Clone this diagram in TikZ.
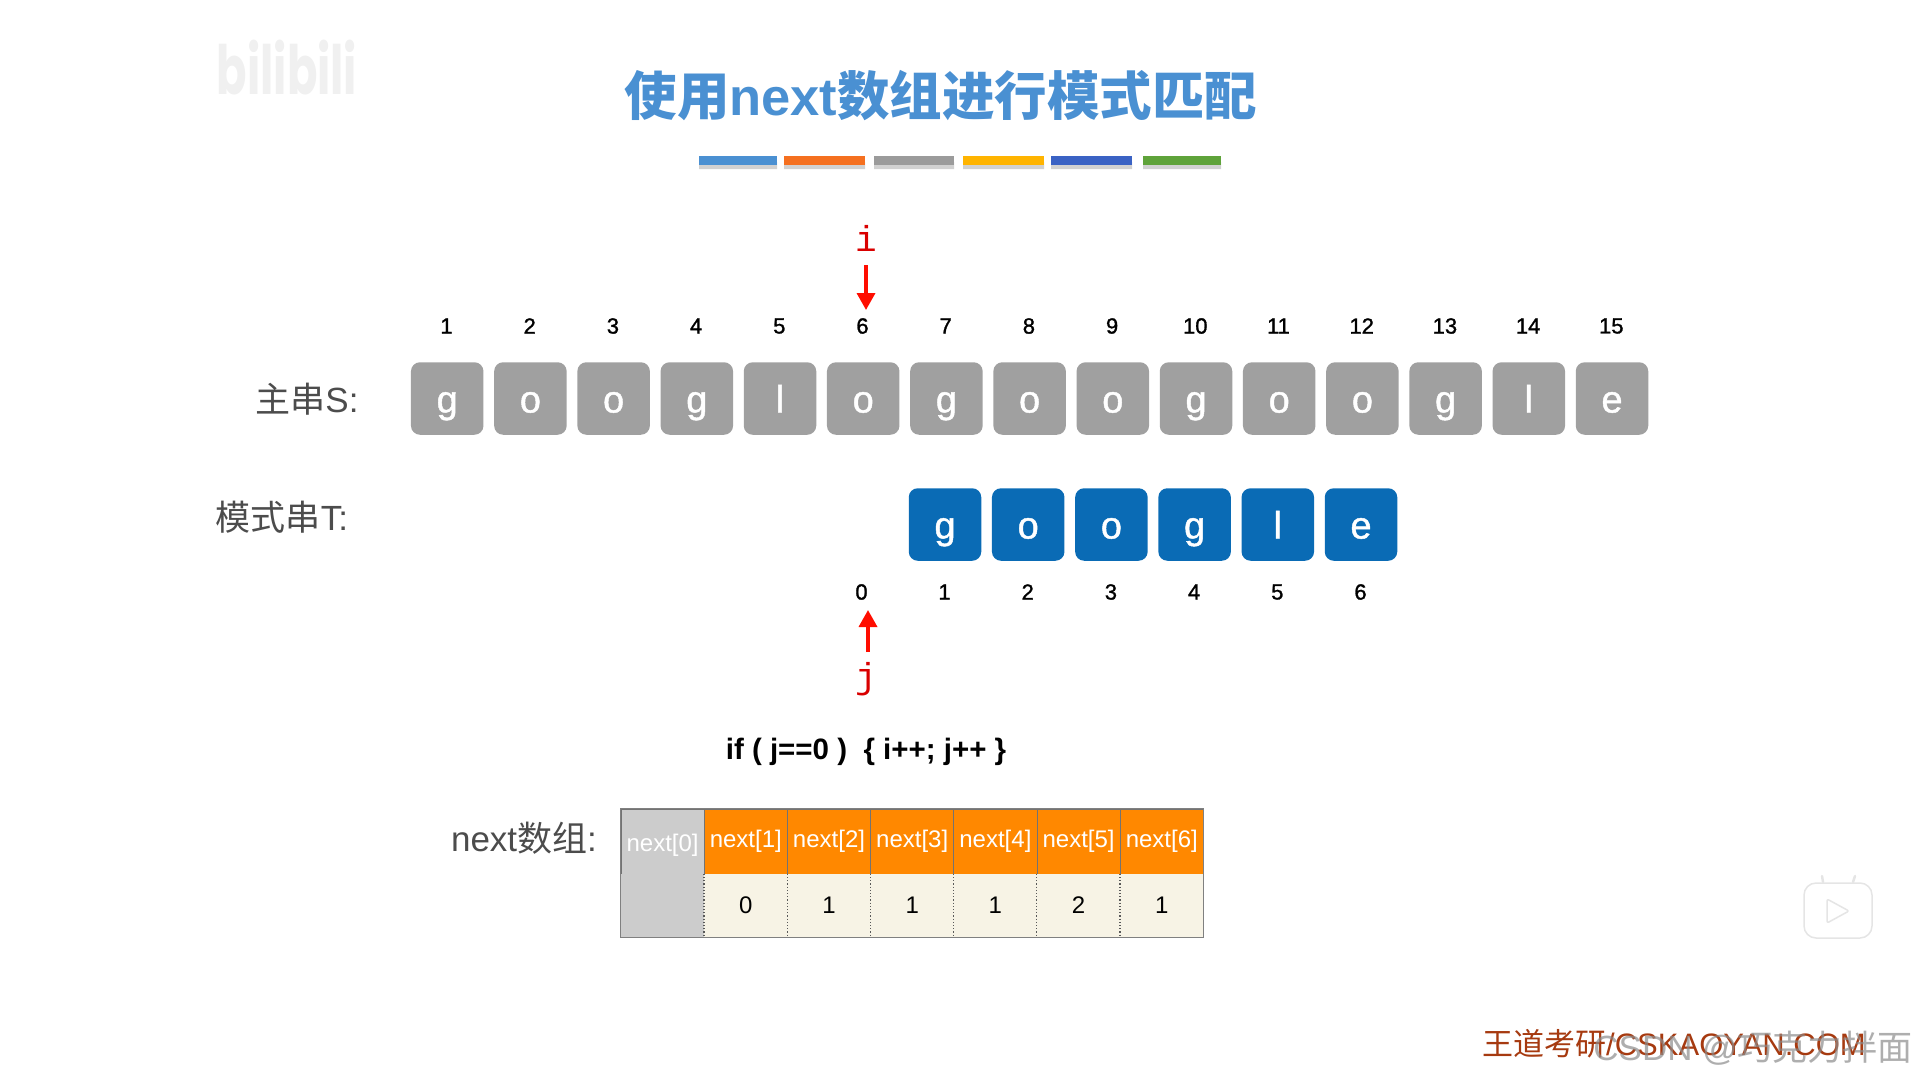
\documentclass[tikz,border=0pt]{standalone}
\usepackage{fontspec}
\setmainfont{Liberation Sans}
\newfontfamily\cjk{Noto Sans CJK SC}
\newfontfamily\ptrfont{Liberation Mono}
\newfontfamily\medfont[FakeBold=1.2]{Liberation Sans}
\usepackage{tikz}
\usetikzlibrary{arrows.meta,calc}
\definecolor{titleblue}{HTML}{4A90D2}
\definecolor{barorange}{HTML}{F57020}
\definecolor{bargray}{HTML}{9B9B9B}
\definecolor{baryellow}{HTML}{FFB400}
\definecolor{barblue}{HTML}{3A62C4}
\definecolor{bargreen}{HTML}{5FA33A}
\definecolor{charblue}{HTML}{0A6BB5}
\definecolor{chargray}{HTML}{A0A0A0}
\definecolor{headorange}{HTML}{FF8800}
\definecolor{cellcream}{HTML}{F7F3E5}
\definecolor{cellgray}{HTML}{CCCCCC}
\definecolor{sitered}{HTML}{A63A10}
\newcommand{\fsz}[1]{\fontsize{#1}{#1}\selectfont}
\tikzset{
  charbox/.style  = {rounded corners=9pt, minimum width=72.5pt, minimum height=72.5pt,
                     inner sep=0pt, text height=36pt, text depth=8pt, text=white, font=\medfont\fsz{38}},
  idxnum/.style   = {font=\medfont\fsz{22}, inner sep=0pt},
  rowlabel/.style = {font=\fsz{35}, text=black!70, inner sep=0pt},
  ptrlabel/.style = {font=\ptrfont\fsz{36}, text=red!85!black, inner sep=0pt},
  ptrarr/.style   = {-{Triangle[length=17pt,width=18pt]}, line width=3.5pt, red!90!orange},
  headcell/.style = {minimum width=83.2pt, minimum height=65pt, inner sep=0pt,
                     font=\fsz{24}, text=white, draw=black!55, line width=0.8pt},
  bodycell/.style = {minimum width=83.2pt, minimum height=63pt, inner sep=0pt, font=\fsz{24}},
}
\begin{document}
\begin{tikzpicture}[x=1pt,y=-1pt]
  \useasboundingbox (0,0) rectangle (1919,1079);
  % --- title and the strip of coloured bars --------------------------------
  \node[font=\fsz{52.5}\bfseries,text=titleblue,inner sep=0pt] (title) at (941,96)
        {{\cjk 使用}next{\cjk 数组进行模式匹配}};
  \fill[black!18] (699,162) rectangle (777,169) (784,162) rectangle (865,169)
        (874,162) rectangle (954,169) (963,162) rectangle (1044,169)
        (1051,162) rectangle (1132,169) (1143,162) rectangle (1221,169);
  \fill[titleblue]  (699,156) rectangle (777,165);
  \fill[barorange]  (784,156) rectangle (865,165);
  \fill[bargray]    (874,156) rectangle (954,165);
  \fill[baryellow]  (963,156) rectangle (1044,165);
  \fill[barblue]    (1051,156) rectangle (1132,165);
  \fill[bargreen]   (1143,156) rectangle (1221,165);
  % faint logos of the video player
  \node[font=\fontspec{Poppins}\bfseries\fsz{68},text=black!6,inner sep=0pt,xscale=0.66] (logo) at (287,68) {bilibili};
  \draw[black!10,fill=white,line width=1.5pt,rounded corners=12pt] (1804,883) rectangle (1872,938);
  \draw[black!10,fill=white,line width=1.5pt,rounded corners=2pt,line join=round]
        (1827,899) -- (1849,911) -- (1827,923) -- cycle;
  \draw[black!10,line width=2.5pt,line cap=round] (1823,882) -- (1822,876) (1853,882) -- (1855,876);
  % --- main string S --------------------------------------------------------
  \node[rowlabel] (lbls) at (307,399) {{\cjk 主串}S:};
  \foreach \ch [count=\n from 1] in {g,o,o,g,l,o,g,o,o,g,o,o,g,l,e} {
    \node[charbox,fill=chargray] (s\n) at ({447.2+(\n-1)*83.2},398.5) {\ch};
    \node[idxnum] (si\n) at ({446.5+(\n-1)*83.2},326) {\n};
  }
  % --- pattern string T -----------------------------------------------------
  \node[rowlabel] (lblt) at (282,517) {{\cjk 模式串}T:};
  \foreach \ch [count=\n from 1] in {g,o,o,g,l,e} {
    \node[charbox,fill=charblue] (t\n) at ({945+(\n-1)*83.2},524.5) {\ch};
    \node[idxnum] (ti\n) at ({944.5+(\n-1)*83.2},592) {\n};
  }
  \node[idxnum] (ti0) at (861.5,592) {0};
  % --- the two pointers -----------------------------------------------------
  \node[ptrlabel] (ptri) at (866,238) {i};
  \coordinate (tipi) at (866,310);
  \draw[ptrarr,shorten <=14pt] (ptri.south) -- (tipi);
  \node[ptrlabel] (ptrj) at (866,679) {j};
  \coordinate (tipj) at (868,610);
  \draw[ptrarr,shorten <=10pt] (ptrj.north -| tipj) -- (tipj);
  \node[font=\fsz{29.5}\bfseries,inner sep=0pt] (code) at (866,752) {if ( j==0 )\ \ \{ i++; j++ \}};
  % --- the next table -------------------------------------------------------
  \node[rowlabel] (lbln) at (524,838) {next{\cjk 数组}:};
  \node[headcell,fill=cellgray,text depth=0pt,yshift=0pt] (h0) at ({621+41.6},841.5) {\raisebox{-3pt}{next[0]}};
  \node[bodycell,fill=cellgray] (b0) at ({621+41.6},905) {};
  \foreach \v [count=\n from 1] in {0,1,1,1,2,1} {
    \node[headcell,fill=headorange] (h\n) at ({662.6+\n*83.2},841.5) {\raisebox{-3pt}{next[\n]}};
    \node[bodycell,fill=cellcream] (b\n) at ({662.6+\n*83.2},905.5) {\v};
    \draw[black!65,dotted,line width=1.2pt] (b\n.north west) -- (b\n.south west);
  }
  \draw[black!50,line width=1.2pt] (h0.north west) rectangle (b6.south east);
  % --- site name and the watermark over it ----------------------------------
  \node[font=\fsz{31},text=sitered,inner sep=0pt,anchor=west] (site) at (1482,1044)
        {{\cjk 王道考研}/CSKAOYAN.COM};
  \node[font=\fsz{35},text=black!45,opacity=0.7,inner sep=0pt,anchor=east] (mark) at (1913,1048)
        {CSDN @{\cjk 巧克力拌面}};
\end{tikzpicture}
\end{document}
